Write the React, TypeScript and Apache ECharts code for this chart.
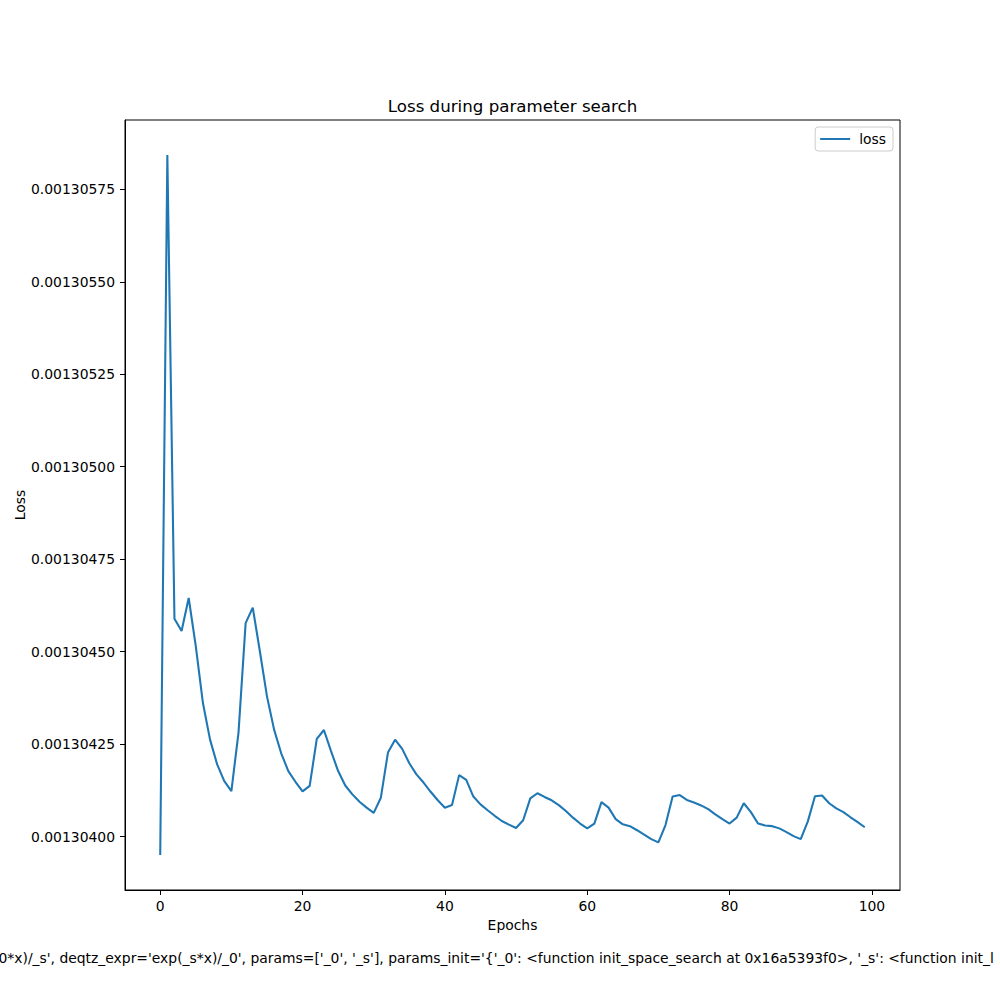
import React, { useEffect, useRef } from "react";
import * as echarts from "echarts";

const epochs = [
  0, 1, 2, 3, 4, 5, 6, 7, 8, 9, 10, 11, 12, 13, 14, 15, 16, 17, 18, 19,
  20, 21, 22, 23, 24, 25, 26, 27, 28, 29, 30, 31, 32, 33, 34, 35, 36, 37, 38, 39,
  40, 41, 42, 43, 44, 45, 46, 47, 48, 49, 50, 51, 52, 53, 54, 55, 56, 57, 58, 59,
  60, 61, 62, 63, 64, 65, 66, 67, 68, 69, 70, 71, 72, 73, 74, 75, 76, 77, 78, 79,
  80, 81, 82, 83, 84, 85, 86, 87, 88, 89, 90, 91, 92, 93, 94, 95, 96, 97, 98, 99,
];

const loss = [
  0.00130395, 0.001305843, 0.001304589, 0.001304556, 0.001304645, 0.001304514, 0.001304361, 0.001304262, 0.001304195, 0.00130415,
  0.001304123, 0.001304281, 0.001304577, 0.001304619, 0.001304501, 0.001304379, 0.001304289, 0.001304225, 0.001304177, 0.001304148,
  0.001304122, 0.001304137, 0.001304264, 0.001304288, 0.001304231, 0.001304177, 0.001304138, 0.001304114, 0.001304094, 0.001304078,
  0.001304064, 0.001304105, 0.001304227, 0.001304262, 0.001304237, 0.001304198, 0.001304168, 0.001304146, 0.001304121, 0.001304098,
  0.001304078, 0.001304085, 0.001304166, 0.001304153, 0.001304108, 0.001304087, 0.001304071, 0.001304056, 0.001304042, 0.001304032,
  0.001304023, 0.001304044, 0.001304103, 0.001304117, 0.001304107, 0.001304098, 0.001304085, 0.001304069, 0.001304051, 0.001304035,
  0.001304022, 0.001304035, 0.001304093, 0.001304078, 0.001304047, 0.001304033, 0.001304028, 0.001304017, 0.001304005, 0.001303993,
  0.001303984, 0.001304031, 0.001304108, 0.001304112, 0.001304099, 0.001304092, 0.001304084, 0.001304074, 0.00130406, 0.001304047,
  0.001304035, 0.001304051, 0.00130409, 0.001304066, 0.001304035, 0.00130403, 0.001304028, 0.001304022, 0.001304012, 0.001304001,
  0.001303993, 0.001304041, 0.001304109, 0.001304111, 0.00130409, 0.001304076, 0.001304066, 0.001304052, 0.001304039, 0.001304025,
];

const xTicks = [0, 20, 40, 60, 80, 100];
const yTicks = [
  0.001304, 0.00130425, 0.0013045, 0.00130475, 0.001305, 0.00130525, 0.0013055, 0.00130575,
];

const titleText = "Loss during parameter search";
const xLabel = "Epochs";
const yLabel = "Loss";
const seriesName = "loss";
const footnote =
  "0*x)/_s', deqtz_expr='exp(_s*x)/_0', params=['_0', '_s'], params_init='{'_0': <function init_space_search at 0x16a5393f0>, '_s': <function init_l";

export default function App() {
  const ref = useRef<HTMLDivElement>(null);
  useEffect(() => {
    const chart = echarts.init(ref.current!, null, { renderer: "svg" });
    const font = "DejaVu Sans";
    const yMinD = Math.min(...loss);
    const yMaxD = Math.max(...loss);
    const yPad = (yMaxD - yMinD) * 0.05;
    const xMinD = epochs[0];
    const xMaxD = epochs[epochs.length - 1];
    const xPad = (xMaxD - xMinD) * 0.05;

    chart.setOption({
      animation: false,
      backgroundColor: "#ffffff",
      grid: {
        left: 125,
        right: 100,
        top: 120,
        bottom: 110,
        containLabel: false,
        show: true,
        borderColor: "#000000",
        borderWidth: 1,
        backgroundColor: "transparent",
      },
      legend: {
        data: [seriesName],
        right: 107,
        top: 127,
        orient: "vertical",
        backgroundColor: "#ffffff",
        borderColor: "#cccccc",
        borderWidth: 1,
        borderRadius: 3,
        padding: [5, 7, 5, 4],
        itemWidth: 30,
        itemHeight: 14,
        itemStyle: { opacity: 0 },
        textStyle: {
          fontFamily: font,
          fontSize: 13.9,
          color: "#000000",
          padding: [0, 0, 0, 4],
        },
      },
      xAxis: {
        type: "value",
        min: xMinD - xPad,
        max: xMaxD + xPad,
        splitLine: { show: false },
        axisLine: { show: true, onZero: false, lineStyle: { color: "#000000", width: 1 } },
        axisTick: {
          show: true,
          inside: false,
          length: 5,
          lineStyle: { color: "#000000", width: 1 },
          customValues: xTicks,
        },
        axisLabel: {
          show: true,
          margin: 9,
          fontFamily: font,
          fontSize: 13.9,
          color: "#000000",
          customValues: xTicks,
          formatter: (v: number) => String(v),
        },
      },
      yAxis: {
        type: "value",
        min: yMinD - yPad,
        max: yMaxD + yPad,
        scale: true,
        splitLine: { show: false },
        axisLine: { show: true, onZero: false, lineStyle: { color: "#000000", width: 1 } },
        axisTick: {
          show: true,
          inside: false,
          length: 5,
          lineStyle: { color: "#000000", width: 1 },
          customValues: yTicks,
        },
        axisLabel: {
          show: true,
          margin: 10,
          fontFamily: font,
          fontSize: 13.9,
          color: "#000000",
          customValues: yTicks,
          formatter: (v: number) => v.toFixed(8),
        },
      },
      series: [
        {
          name: seriesName,
          type: "line",
          data: epochs.map((e, i) => [e, loss[i]]),
          showSymbol: false,
          symbol: "none",
          lineStyle: { color: "#1f77b4", width: 2.08 },
          itemStyle: { color: "#1f77b4" },
        },
      ],
      graphic: [
        {
          type: "text",
          x: 512.5,
          y: 106,
          style: {
            text: titleText,
            fontFamily: font,
            fontSize: 16.67,
            fill: "#000000",
            align: "center",
            verticalAlign: "middle",
          },
        },
        {
          type: "text",
          x: 512.5,
          y: 925,
          style: {
            text: xLabel,
            fontFamily: font,
            fontSize: 13.9,
            fill: "#000000",
            align: "center",
            verticalAlign: "middle",
          },
        },
        {
          type: "text",
          x: 19.5,
          y: 505,
          rotation: Math.PI / 2,
          style: {
            text: yLabel,
            fontFamily: font,
            fontSize: 13.9,
            fill: "#000000",
            align: "center",
            verticalAlign: "middle",
          },
        },
        {
          type: "text",
          x: -1.5,
          y: 958,
          style: {
            text: footnote,
            fontFamily: font,
            fontSize: 13.9,
            fill: "#000000",
            align: "left",
            verticalAlign: "middle",
          },
        },
      ],
    });
    return () => chart.dispose();
  }, []);
  return (
    <div
      ref={ref}
      style={{ position: "absolute", left: 0, top: 0, width: 1000, height: 1000, background: "#ffffff" }}
    />
  );
}
